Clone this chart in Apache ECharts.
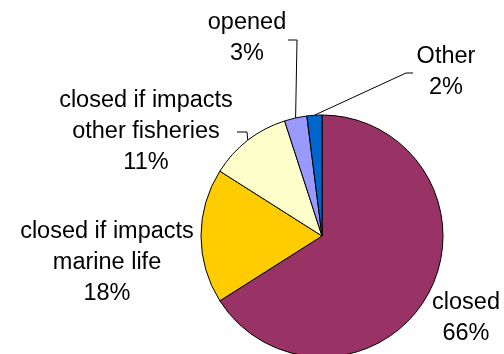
<!DOCTYPE html>
<html>
<head>
<meta charset="utf-8">
<script src="https://cdn.jsdelivr.net/npm/echarts@6/dist/echarts.min.js"></script>
<style>
  html, body { margin: 0; padding: 0; background: #fff; }
  #chart { width: 504px; height: 354px; }
</style>
</head>
<body>
<div id="chart"></div>
<script>
// Responses, in clockwise order starting from 12 o'clock
const categories = [
  'closed',
  'closed if impacts\nmarine life',
  'closed if impacts\nother fisheries',
  'opened',
  'Other'
];
const values = [66, 18, 11, 3, 2];
const colors = ['#993366', '#FFCC00', '#FFFFCC', '#9999FF', '#0066CC'];

// Label placement: text centre, and optional leader-line bend/end points
const labelPlacement = [
  { x: 466, y: 318, line: null },
  { x: 107, y: 263, line: null },
  { x: 146, y: 132, line: [[247, 132], [237, 132]] },
  { x: 247, y: 38,  line: [[297, 40], [288, 40]] },
  { x: 446, y: 72,  line: [[406, 73], [413, 73]] }
];

const chart = echarts.init(document.getElementById('chart'), null, { renderer: 'canvas' });

const data = categories.map((name, i) => ({
  name: name,
  value: values[i],
  itemStyle: { color: colors[i] },
  labelLine: { show: !!labelPlacement[i].line }
}));

chart.setOption({
  animation: false,
  series: [{
    type: 'pie',
    center: [322, 236],
    radius: 121,
    startAngle: 90,
    clockwise: true,
    percentPrecision: 0,
    avoidLabelOverlap: false,
    itemStyle: { borderColor: '#000', borderWidth: 1 },
    label: {
      show: true,
      formatter: '{b}\n{d}%',
      fontFamily: 'Liberation Sans, Arial, sans-serif',
      fontSize: 23.5,
      lineHeight: 31,
      color: '#000',
      align: 'center'
    },
    labelLine: {
      show: true,
      length: 10,
      length2: 10,
      lineStyle: { color: '#000', width: 1 }
    },
    labelLayout: function (params) {
      const p = labelPlacement[params.dataIndex];
      const out = { x: p.x, y: p.y, align: 'center', verticalAlign: 'middle' };
      if (p.line && params.labelLinePoints) {
        out.labelLinePoints = [params.labelLinePoints[0], p.line[0], p.line[1]];
      }
      return out;
    },
    emphasis: { disabled: true },
    data: data
  }]
});
</script>
</body>
</html>
